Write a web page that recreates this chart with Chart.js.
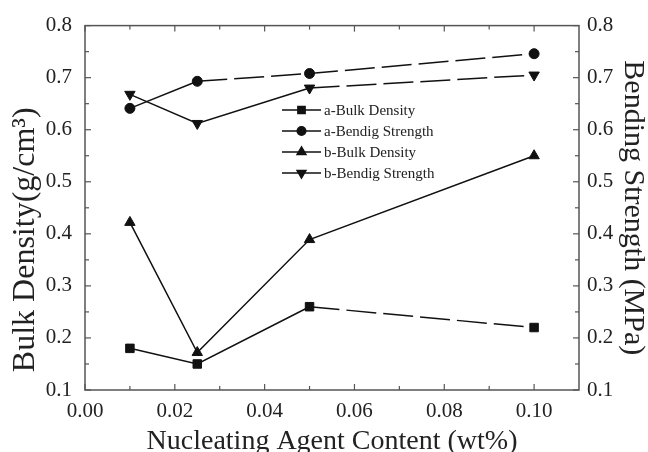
<!DOCTYPE html>
<html>
<head>
<meta charset="utf-8">
<script src="https://cdn.jsdelivr.net/npm/chart.js@4"></script>
<style>
  html, body { margin: 0; padding: 0; background: #fff; }
  #wrap { width: 648px; height: 452px; }
</style>
</head>
<body>
<div id="wrap"><canvas id="chart"></canvas></div>
<script>
// data
const content = [0.01, 0.025, 0.05, 0.10];
const aBulkDensity = [0.18, 0.15, 0.26, 0.22];
const aBendStrength = [0.641, 0.693, 0.708, 0.746];
const bBulkDensity = [0.422, 0.172, 0.389, 0.55];
const bBendStrength = [0.668, 0.612, 0.680, 0.705];
const seriesNames = ['a-Bulk Density', 'a-Bendig Strength', 'b-Bulk Density', 'b-Bendig Strength'];

const xTicks = [0.00, 0.02, 0.04, 0.06, 0.08, 0.10];
const xMinor = [0.01, 0.03, 0.05, 0.07, 0.09];
const yTicks = [0.1, 0.2, 0.3, 0.4, 0.5, 0.6, 0.7, 0.8];
const yMinor = [0.15, 0.25, 0.35, 0.45, 0.55, 0.65, 0.75];

const serif = '"Liberation Serif", "DejaVu Serif", serif';
const ink = '#111';
const frame = '#555';

const pts = vals => content.map((x, i) => ({ x: x, y: vals[i] }));
const dashFrom = from => ({ borderDash: c => c.p0DataIndex >= from ? [30, 7] : undefined });

function series(name, vals, axis, style, rot, dashStart, r) {
    return {
        label: name,
        data: pts(vals),
        yAxisID: axis,
        borderColor: ink,
        backgroundColor: ink,
        borderWidth: 1.5,
        pointStyle: style,
        pointRotation: rot,
        pointRadius: r,
        pointBorderWidth: 1,
        pointBackgroundColor: ink,
        tension: 0,
        segment: dashStart == null ? {} : dashFrom(dashStart)
    };
}

// frame and inward ticks like the original plot
const framePlugin = {
    id: 'frame',
    afterDraw(chart) {
        const { ctx, chartArea: a, scales } = chart;
        ctx.save();
        ctx.strokeStyle = frame;
        ctx.lineWidth = 1.5;
        ctx.strokeRect(a.left, a.top, a.right - a.left, a.bottom - a.top);
        ctx.lineWidth = 1.2;
        const tick = (x1, y1, x2, y2) => { ctx.beginPath(); ctx.moveTo(x1, y1); ctx.lineTo(x2, y2); ctx.stroke(); };
        xTicks.concat(xMinor).forEach(v => {
            const len = xTicks.includes(v) ? 6 : 4;
            const px = scales.x.getPixelForValue(v);
            tick(px, a.bottom, px, a.bottom - len);
            tick(px, a.top, px, a.top + len);
        });
        yTicks.concat(yMinor).forEach(v => {
            const len = yTicks.includes(v) ? 6 : 4;
            const py = scales.y.getPixelForValue(v);
            tick(a.left, py, a.left + len, py);
            tick(a.right, py, a.right - len, py);
        });
        ctx.restore();
    }
};

// legend drawn as line + marker, as in the figure
const legendPlugin = {
    id: 'lineLegend',
    afterDraw(chart) {
        const ctx = chart.ctx;
        const x0 = 282, x1 = 321, rowTop = 110, rowGap = 21;
        ctx.save();
        ctx.font = '15px ' + serif;
        ctx.textBaseline = 'middle';
        chart.data.datasets.forEach((ds, i) => {
            const y = rowTop + i * rowGap;
            ctx.strokeStyle = ink;
            ctx.lineWidth = 1.5;
            ctx.beginPath(); ctx.moveTo(x0, y); ctx.lineTo(x1, y); ctx.stroke();
            ctx.fillStyle = ink;
            Chart.helpers.drawPoint(ctx, { pointStyle: ds.pointStyle, rotation: ds.pointRotation, radius: ds.pointRadius * 0.85, borderWidth: 1 }, (x0 + x1) / 2, y);
            ctx.fillStyle = '#222';
            ctx.fillText(ds.label, x1 + 3, y + 1);
        });
        ctx.restore();
    }
};

const tickFont = { family: serif, size: 21 };

new Chart(document.getElementById('chart'), {
    type: 'line',
    data: {
        datasets: [
            series(seriesNames[0], aBulkDensity, 'y', 'rect', 0, 2, 6),
            series(seriesNames[1], aBendStrength, 'y1', 'circle', 0, 1, 5),
            series(seriesNames[2], bBulkDensity, 'y', 'triangle', 0, null, 6),
            series(seriesNames[3], bBendStrength, 'y1', 'triangle', 180, 2, 6)
        ]
    },
    options: {
        responsive: true,
        maintainAspectRatio: false,
        animation: false,
        layout: { padding: { top: 22 } },
        plugins: {
            legend: { display: false },
            tooltip: { enabled: false }
        },
        scales: {
            x: {
                type: 'linear',
                min: 0,
                max: 0.11,
                afterBuildTicks: s => { s.ticks = xTicks.map(v => ({ value: v })); },
                afterFit: s => { s.height = 62; },
                grid: { display: false, drawTicks: false },
                border: { display: false },
                ticks: { font: tickFont, color: '#222', padding: 9, maxRotation: 0, callback: v => v.toFixed(2) },
                title: { display: true, text: 'Nucleating Agent Content (wt%)', font: { family: serif, size: 28 }, color: '#222', padding: { top: 0, bottom: -6 } }
            },
            y: {
                position: 'left',
                min: 0.1,
                max: 0.8,
                afterBuildTicks: s => { s.ticks = yTicks.map(v => ({ value: v })); },
                afterFit: s => { s.width = 85; },
                grid: { display: false, drawTicks: false },
                border: { display: false },
                ticks: { font: tickFont, color: '#222', padding: 13, callback: v => v.toFixed(1) },
                title: { display: true, text: 'Bulk Density(g/cm³)        ', font: { family: serif, size: 32 }, color: '#222', padding: { top: 6, bottom: 0 } }
            },
            y1: {
                position: 'right',
                min: 0.1,
                max: 0.8,
                afterBuildTicks: s => { s.ticks = yTicks.map(v => ({ value: v })); },
                afterFit: s => { s.width = 69; },
                grid: { display: false, drawTicks: false },
                border: { display: false },
                ticks: { font: tickFont, color: '#222', padding: 8, callback: v => v.toFixed(1) },
                title: { display: true, text: 'Bending Strength (MPa)', font: { family: serif, size: 30 }, color: '#222', padding: { top: -3, bottom: 0 } }
            }
        }
    },
    plugins: [framePlugin, legendPlugin]
});
</script>
</body>
</html>
